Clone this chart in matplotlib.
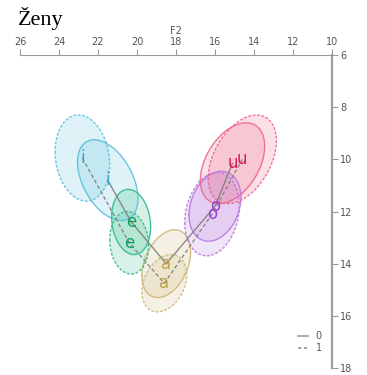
import matplotlib
matplotlib.use('Agg')
import matplotlib.pyplot as plt
from matplotlib.lines import Line2D
import numpy as np

vowels = ['i', 'e', 'a', 'o', 'u']
groups = ['0', '1']

# means (kHz*10 scale as in the chart)
f2_0 = [21.5, 20.3, 18.5, 16.0, 15.1]
f1_0 = [10.8, 12.4, 14.0, 11.8, 10.15]
f2_1 = [22.8, 20.4, 18.6, 16.15, 14.6]
f1_1 = [9.95, 13.2, 14.75, 12.1, 10.0]

# ellipse half extents and correlation
sd_f2_0 = [1.55, 1.0, 1.25, 1.33, 1.65]
sd_f1_0 = [1.55, 1.25, 1.3, 1.34, 1.55]
rho_0 = [-0.45, -0.15, 0.35, 0.25, 0.42]
sd_f2_1 = [1.4, 1.0, 1.15, 1.4, 1.75]
sd_f1_1 = [1.65, 1.2, 1.1, 1.6, 1.7]
rho_1 = [-0.15, -0.1, 0.3, 0.2, 0.42]

edge_cols = ['#5BC0DE', '#33BB88', '#CDB77A', '#B77BE0', '#EE6688']
text_cols = ['#3AA6D0', '#10A060', '#BFA24A', '#9B3FD6', '#D81B50']

fig = plt.figure(figsize=(3.67, 3.75), dpi=100)
ax = fig.add_axes([0.0545, 0.0187, 0.850, 0.8346])

t = np.linspace(0, 2 * np.pi, 200)


def ellipse(cx, cy, rx, ry, rho):
    x = cx + rx * np.cos(t)
    y = cy + ry * (rho * np.cos(t) + np.sqrt(1 - rho ** 2) * np.sin(t))
    return x, y


sets = [
    (f2_0, f1_0, sd_f2_0, sd_f1_0, rho_0, '-'),
    (f2_1, f1_1, sd_f2_1, sd_f1_1, rho_1, (0, (2, 1.2))),
]

for f2, f1, s2, s1, rh, ls in sets:
    for k in range(len(vowels)):
        x, y = ellipse(f2[k], f1[k], s2[k], s1[k], rh[k])
        ax.fill(x, y, color=edge_cols[k], alpha=0.2, lw=0, zorder=1)
        ax.plot(x, y, color=edge_cols[k], lw=1, ls=ls, zorder=2, alpha=0.9)

# vowel polygons
ax.plot(f2_0, f1_0, color='#808080', lw=0.9, ls='-', zorder=3)
ax.plot(f2_1, f1_1, color='#808080', lw=0.9, ls=(0, (3, 2)), zorder=3)

for f2, f1 in [(f2_0, f1_0), (f2_1, f1_1)]:
    for k, v in enumerate(vowels):
        ax.text(f2[k], f1[k], v, color=text_cols[k], fontsize=12,
                ha='center', va='center', zorder=4)

ax.set_xlim(26, 10)
ax.set_ylim(18, 6)
ax.set_xticks(np.arange(26, 9, -2))
ax.set_yticks(np.arange(6, 19, 2))
ax.xaxis.tick_top()
ax.xaxis.set_label_position('top')
ax.yaxis.tick_right()
ax.set_xlabel('F2', fontsize=7, color='#555555', labelpad=2)
ax.tick_params(axis='both', labelsize=7, labelcolor='#555555',
               color='#999999', length=4, width=0.8, direction='out', pad=2)
for s in ['left', 'bottom']:
    ax.spines[s].set_visible(False)
ax.spines['top'].set_color('#9a9a9a')
ax.spines['top'].set_linewidth(0.8)
ax.spines['right'].set_color('#a0a0a0')
ax.spines['right'].set_linewidth(1.6)
ax.patch.set_alpha(0)

handles = [Line2D([], [], color='#999999', lw=1.2, ls='-'),
           Line2D([], [], color='#999999', lw=1.2, ls=(0, (2, 1.5)))]
ax.legend(handles, groups, loc='lower right', bbox_to_anchor=(0.995, 0.02),
          frameon=False, fontsize=7, handlelength=1.0, handletextpad=0.8,
          labelspacing=0.2, labelcolor='#555555')

fig.text(0.048, 0.952, 'Ženy', family='Liberation Serif', fontsize=16,
         ha='left', va='center')

fig.savefig('out.png', dpi=100)
